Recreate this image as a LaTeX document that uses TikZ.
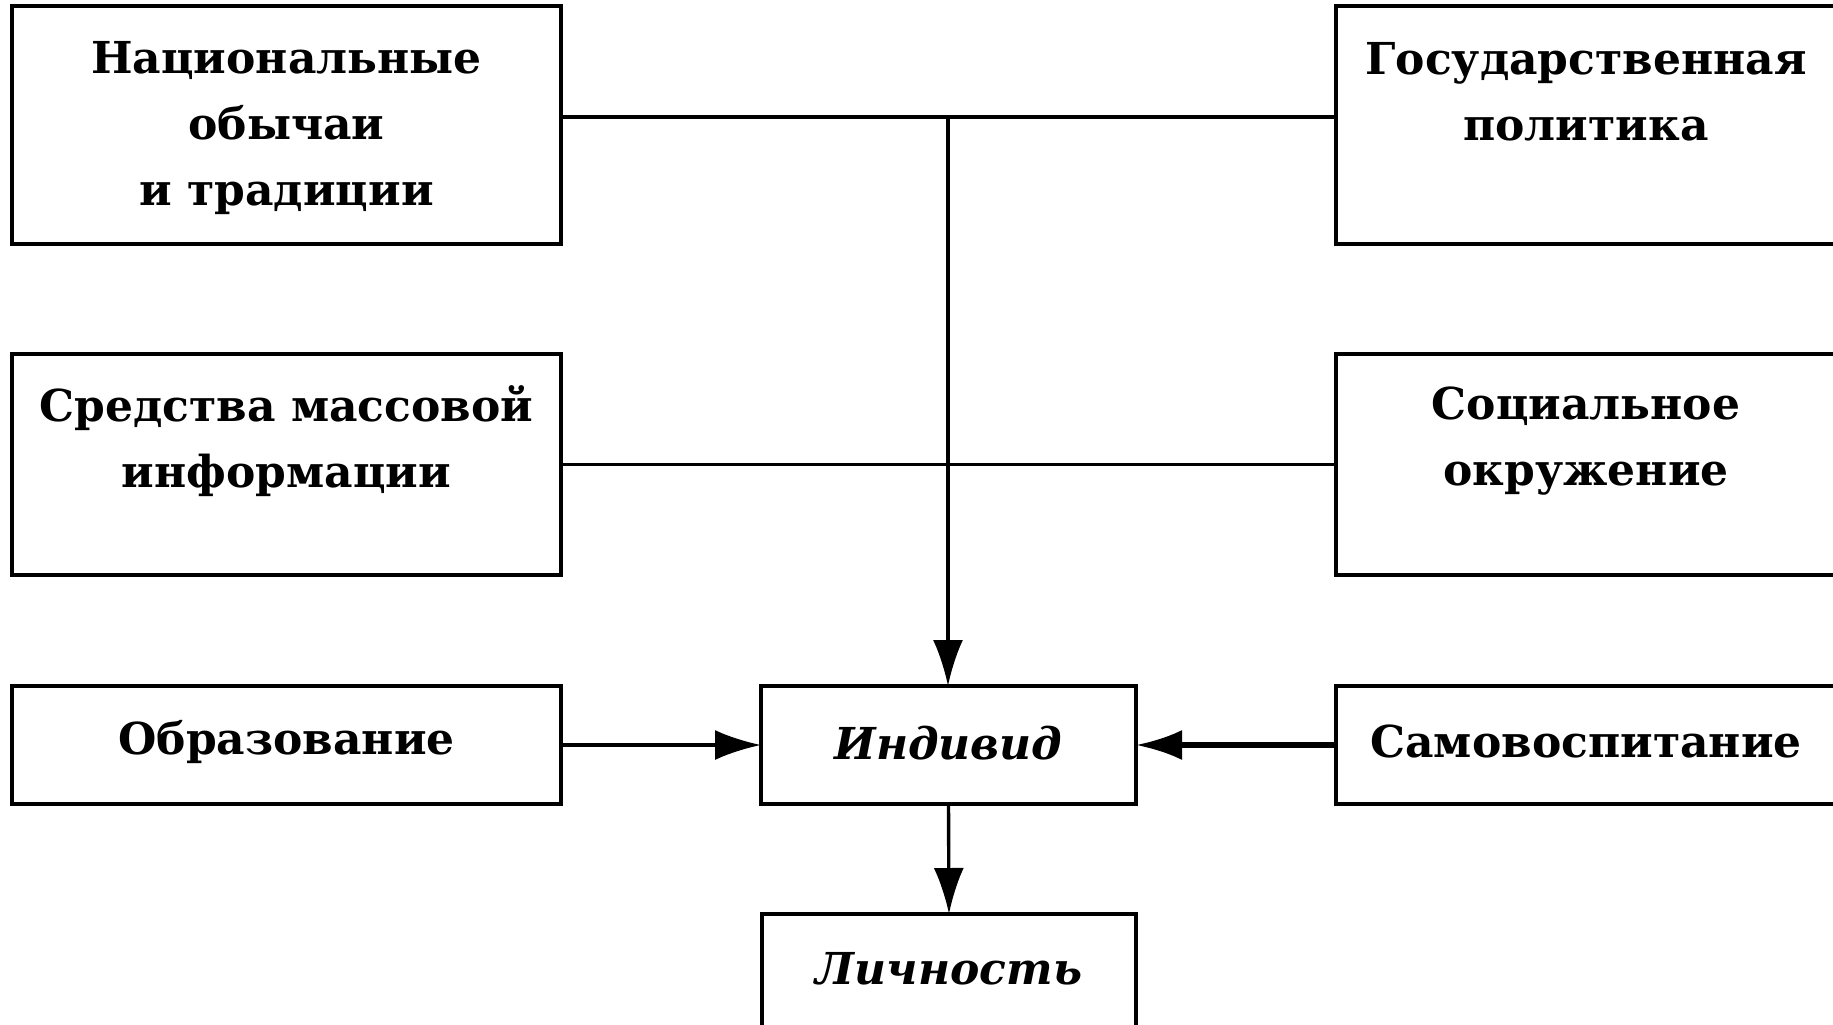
\documentclass[tikz,border=0pt]{standalone}
\usepackage{fontspec}
\setmainfont{DejaVu Serif}
\usetikzlibrary{arrows.meta}
\begin{document}
\begin{tikzpicture}[x=0.5pt,y=-0.5pt,
  box/.style={draw=black,line width=1.8pt,inner sep=0pt,outer sep=0pt,rectangle},
  lbl/.style={inner sep=0pt,align=center,font=\fontsize{22pt}{33pt}\selectfont\bfseries},
  conn/.style={draw=black,line width=1.7pt},
  arr/.style={conn,-{Latex[length=23pt,width=15pt]}}]
\useasboundingbox (0,0) rectangle (1833,1024);
\clip (0,0) rectangle (1833,1024);
\fill[white] (0,0) rectangle (1833,1024);
% boxes
\node[box,minimum width=274.5pt,minimum height=119pt] (NO) at (286.5,125) {};
\node[box,minimum width=250pt,minimum height=119pt] (GP) at (1586,125) {};
\node[box,minimum width=274.5pt,minimum height=110.5pt] (SMI) at (286.5,464.5) {};
\node[box,minimum width=250pt,minimum height=110.5pt] (SO) at (1586,464.5) {};
\node[box,minimum width=274.5pt,minimum height=59pt] (OBR) at (286.5,745) {};
\node[box,minimum width=187.5pt,minimum height=59pt] (IND) at (948.5,745) {};
\node[box,minimum width=250pt,minimum height=59pt] (SAM) at (1586,745) {};
\node[box,minimum width=187pt,minimum height=70pt] (LICH) at (949,984) {};
% labels
\node[lbl] (tNO) at (286.5,128) {Национальные\\обычаи\\и традиции};
\node[lbl] (tGP) at (1586,91.5) {Государственная\\политика};
\node[lbl] (tSMI) at (286.5,441) {Средства массовой\\информации};
\node[lbl] (tSO) at (1586,441) {Социальное\\окружение};
\node[lbl] (tOBR) at (286.5,742) {Образование};
\node[lbl] (tIND) at (948.5,743) {\textit{Индивид}};
\node[lbl] (tSAM) at (1586,741) {Самовоспитание};
\node[lbl] (tLICH) at (949,969) {\textit{Личность}};
% connectors
\coordinate (J) at (948,117);
\draw[conn] (NO.east |- J) -- (GP.west |- J);
\draw[conn] (SMI.east) -- (SO.west);
\draw[arr] (J) -- (J |- IND.north);
\draw[arr] (OBR.east) -- (IND.west);
\draw[arr,line width=2.6pt] (SAM.west) -- (IND.east);
\draw[arr] (IND.south) -- (LICH.north);
\end{tikzpicture}
\end{document}
